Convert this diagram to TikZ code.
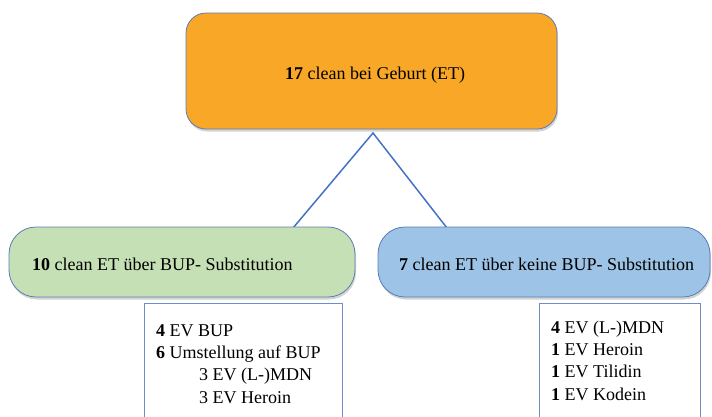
\documentclass[tikz,border=0pt]{standalone}
\usepackage{fontspec}
\setmainfont{Liberation Serif}
\usetikzlibrary{shadows}
\definecolor{orangefill}{HTML}{F9A726}
\definecolor{greenfill}{HTML}{C5E0B4}
\definecolor{bluefill}{HTML}{9DC3E6}
\definecolor{boxline}{HTML}{5B7DB5}
\definecolor{connline}{HTML}{4472C4}
\definecolor{listline}{HTML}{6F8FC4}
\tikzset{
  mainbox/.style={draw=boxline, line width=0.8pt, rectangle, inner sep=0pt,
    drop shadow={shadow xshift=1pt, shadow yshift=-2.5pt, opacity=0.35}},
  listbox/.style={draw=listline, line width=0.8pt, fill=white, rectangle, inner sep=0pt,
    drop shadow={shadow xshift=1pt, shadow yshift=-1.5pt, opacity=0.2}},
  label/.style={anchor=base west, inner sep=0pt, font=\fontsize{18}{22}\selectfont},
  conn/.style={draw=connline, line width=1.5pt}
}
\begin{document}
\begin{tikzpicture}[x=1pt,y=-1pt]
\useasboundingbox (0,0) rectangle (712,416);
% connectors
\coordinate (apex) at (373,133);
\coordinate (lfoot) at (293,228);
\coordinate (rfoot) at (447,228);
\draw[conn] (lfoot) -- (apex) -- (rfoot);
% boxes
\node[mainbox, fill=orangefill, rounded corners=20pt, minimum width=371pt, minimum height=116pt] (top) at (371.5,71) {};
\node[mainbox, fill=greenfill, rounded corners=27pt, minimum width=346pt, minimum height=70pt] (green) at (182,262) {};
\node[mainbox, fill=bluefill, rounded corners=27pt, minimum width=332pt, minimum height=70pt] (blue) at (544,262) {};
\node[listbox, minimum width=198pt, minimum height=130pt, anchor=north west] (llist) at (144,303) {};
\node[listbox, minimum width=161pt, minimum height=130pt, anchor=north west] (rlist) at (539,303) {};
% texts
\node[label] (ttop) at (285,79) {\textbf{17} clean bei Geburt (ET)};
\node[label] (tgreen) at (32,270) {\textbf{10} clean ET über BUP- Substitution};
\node[label] (tblue) at (399,270) {\textbf{7} clean ET über keine BUP- Substitution};
\node[label] (l1) at (156,336) {\textbf{4} EV BUP};
\node[label] (l2) at (156,358.3) {\textbf{6} Umstellung auf BUP};
\node[label] (l3) at (199,380.6) {3 EV (L-)MDN};
\node[label] (l4) at (199,403) {3 EV Heroin};
\node[label] (r1) at (551,333) {\textbf{4} EV (L-)MDN};
\node[label] (r2) at (551,355.3) {\textbf{1} EV Heroin};
\node[label] (r3) at (551,377.6) {\textbf{1} EV Tilidin};
\node[label] (r4) at (551,400) {\textbf{1} EV Kodein};
\end{tikzpicture}
\end{document}
